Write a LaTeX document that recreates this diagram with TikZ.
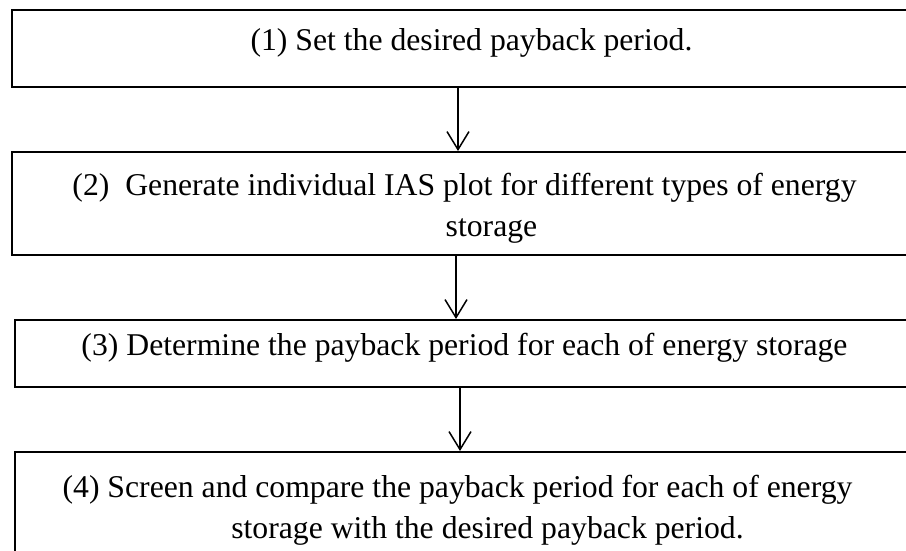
\documentclass[tikz,border=0pt]{standalone}
\usepackage{fontspec}
\setmainfont{Liberation Serif}
\usetikzlibrary{positioning}
\usetikzlibrary{arrows.meta}

\begin{document}
\begin{tikzpicture}[
                x=0.5pt, y=-0.5pt,
                node distance=31.5pt,
                blacksquarednode/.style={rectangle, draw=black, line width=1pt, minimum width=459.5pt, inner sep=0pt, align=center, font=\fontsize{15.85}{20.5}\selectfont, text height=11pt},
                openarrow/.style={-{Straight Barb[length=9pt,width=11pt]}, line width=0.75pt},
                ]
                \clip (0,0) rectangle (906,551);
                \node[blacksquarednode, minimum height=38.5pt, text depth=8.5pt, anchor=north west] (A) at (11,9) {(1) Set the desired payback period.};
                \node[blacksquarednode, minimum height=51.5pt, text height=32.5pt, text depth=0pt, below=of A] (B) {(2)\ \ Generate individual IAS plot for different types of energy\hspace*{7pt}\\\hspace*{20pt}storage};
                \node[blacksquarednode, minimum height=33.5pt, text depth=9.5pt, below=of B, xshift=1.5pt] (C) {(3) Determine the payback period for each of energy storage\hspace*{10pt}};
                \node[blacksquarednode, minimum height=70pt, text height=31.5pt, text depth=15.5pt, below=of C] (D) {(4) Screen and compare the payback period for each of energy\hspace*{17pt}\\\hspace*{13pt}storage with the desired payback period.};

                \draw[openarrow] ([xshift=-6.75pt]A.south) -- ([xshift=-6.75pt]B.north);
                \draw[openarrow] ([xshift=-7.75pt]B.south) -- ([xshift=-7.75pt]B.south |- C.north);
                \draw[openarrow] ([xshift=-7.25pt]C.south) -- ([xshift=-7.25pt]D.north);
            \end{tikzpicture}
\end{document}
